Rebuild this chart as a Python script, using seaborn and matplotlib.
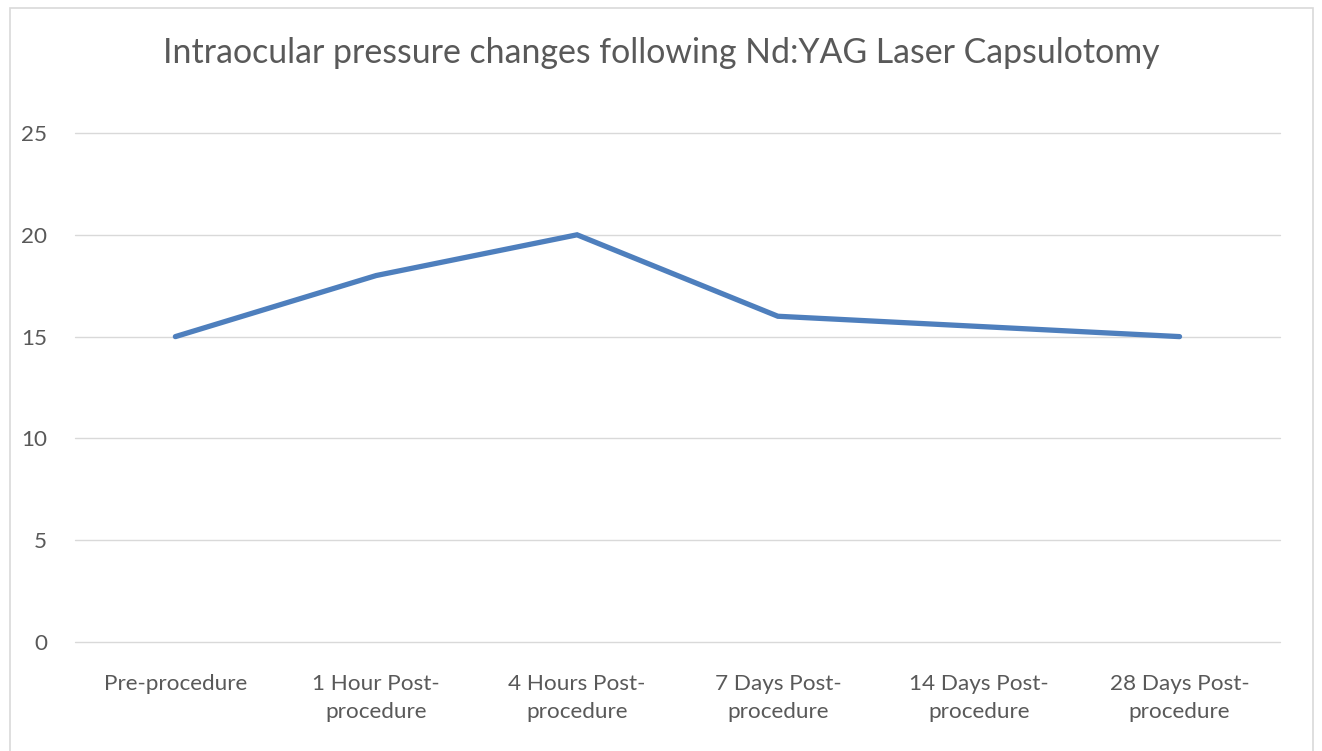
import seaborn as sns
import matplotlib.pyplot as plt
import pandas as pd
from matplotlib.patches import Rectangle

categories = ["Pre-procedure", "1 Hour Post-\nprocedure", "4 Hours Post-\nprocedure",
              "7 Days Post-\nprocedure", "14 Days Post-\nprocedure", "28 Days Post-\nprocedure"]
iop = [15, 18, 20, 16, 15.5, 15]
yticks = [0, 5, 10, 15, 20, 25]

df = pd.DataFrame({"stage": categories, "iop": iop})

sns.set_style("white")
plt.rcParams["font.family"] = ["Lato", "DejaVu Sans"]
text_color = "#595959"

fig = plt.figure(figsize=(13.22, 7.51), dpi=100)
ax = fig.add_axes([0.0567, 0.1451, 0.9115, 0.6778])

sns.lineplot(data=df, x="stage", y="iop", ax=ax, color="#4E7FBD", linewidth=3.8,
             solid_capstyle="round", solid_joinstyle="miter", sort=False)

ax.set_xlim(-0.5, len(categories) - 0.5)
ax.set_ylim(0, 25)
ax.set_yticks(yticks)
ax.set_xticks(range(len(categories)))
ax.set_xticklabels(categories, fontsize=16.2, color=text_color, linespacing=1.5)
ax.set_yticklabels([str(v) for v in yticks], fontsize=16.2, color=text_color)
ax.tick_params(axis="x", length=0, pad=23)
ax.tick_params(axis="y", length=0, pad=20)
ax.grid(axis="y", color="#D9D9D9", linewidth=1)
for gl in ax.get_ygridlines():
    gl.set_clip_on(False)
ax.set_axisbelow(True)
for s in ax.spines.values():
    s.set_visible(False)
ax.set_xlabel("")
ax.set_ylabel("")

fig.text(0.5, 0.93, "Intraocular pressure changes following Nd:YAG Laser Capsulotomy",
         ha="center", va="center", fontsize=24.4, color=text_color)

fig.patches.append(Rectangle((10 / 1322, -0.01), 1303 / 1322, 1 - 8 / 751 + 0.01,
                             transform=fig.transFigure, fill=False,
                             edgecolor="#D9D9D9", linewidth=1.2))

fig.savefig("out.png", dpi=100)
